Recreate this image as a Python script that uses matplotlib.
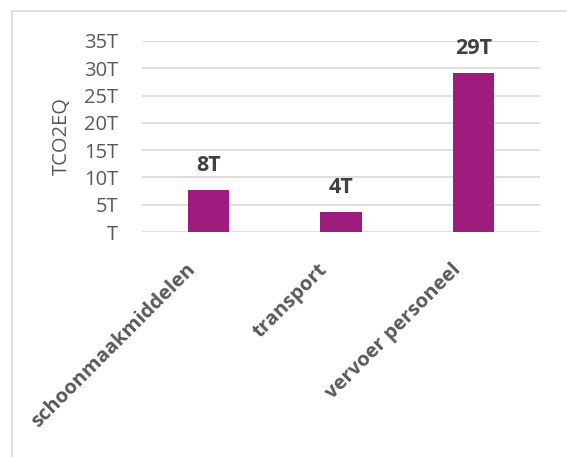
import matplotlib.pyplot as plt
from matplotlib.patches import Rectangle
from matplotlib.ticker import FuncFormatter
from matplotlib.transforms import ScaledTranslation

# data
categories = ["schoonmaakmiddelen", "transport", "vervoer personeel"]
values = [7.7, 3.7, 29.1]
value_labels = ["8T", "4T", "29T"]
y_ticks = [0, 5, 10, 15, 20, 25, 30, 35]

bar_color = "#9D1C7D"
grid_color = "#D9D9D9"
text_color = "#595959"

plt.rcParams['font.family'] = ['Open Sans', 'DejaVu Sans']

W, H = 567, 457
fig = plt.figure(figsize=(W / 100, H / 100), dpi=100)

# outer chart frame (cropped at right and bottom)
fig.patches.append(Rectangle((12 / W, -0.1), 1.2, 1 - 11 / H + 0.1,
                             transform=fig.transFigure, fill=False,
                             edgecolor=grid_color, linewidth=1.2))

ax = fig.add_axes([142 / W, 1 - 232 / H, 398 / W, 191 / H])

x = range(len(categories))
ax.bar(x, values, width=0.31, color=bar_color, zorder=3)

for xi, v, lab in zip(x, values, value_labels):
    ax.annotate(lab, (xi, v), xytext=(0, 10), textcoords="offset points",
                ha="center", va="bottom", fontsize=15.5, fontweight="bold",
                color="#404040")

ax.set_xlim(-0.5, len(categories) - 0.5)
ax.set_ylim(0, 35)
ax.set_yticks(y_ticks)
ax.yaxis.set_major_formatter(FuncFormatter(lambda v, p: f"{int(v)}T" if v else "T"))
ax.grid(axis="y", color=grid_color, linewidth=1.2, zorder=0)

for s in ax.spines.values():
    s.set_visible(False)
ax.tick_params(axis="y", length=0, pad=17, labelsize=14.5, labelcolor=text_color)
ax.tick_params(axis="x", length=0, pad=20)

ax.set_xticks(list(x))
ax.set_xticklabels(categories, rotation=45, ha="right", fontsize=14.5,
                   fontweight="bold", color=text_color)
shift = ScaledTranslation(-9 / 100, 0, fig.dpi_scale_trans)
for lab in ax.get_xticklabels():
    lab.set_transform(lab.get_transform() + shift)

ax.set_ylabel("TCO2EQ", fontsize=14.5, color=text_color)
ax.yaxis.set_label_coords(-0.175, 0.5)

fig.savefig("out.png", dpi=100)
